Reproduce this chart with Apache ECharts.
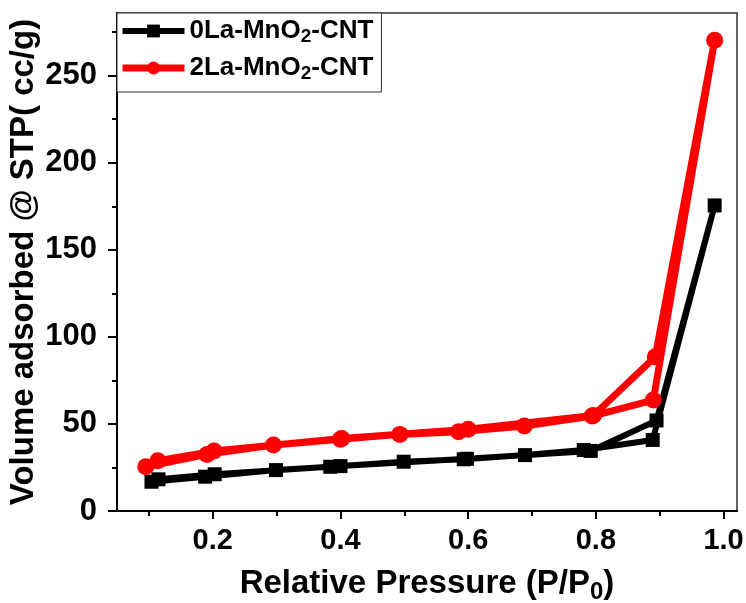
<!DOCTYPE html>
<html lang="en">
  <head>
    <meta charset="UTF-8" />
    <title>Isotherm</title>
    <script src="https://cdn.jsdelivr.net/npm/echarts@6.0.0/dist/echarts.min.js"></script>
    <style>
      body { margin: 0; background: #fff; }
    </style>
  </head>
  <body>
    <div id="main" style="width: 746px; height: 603px"></div>
    <script type="text/javascript">
      // adsorption branch followed by desorption branch (drawn as one path)
      const blackX = [0.104, 0.188, 0.299, 0.384, 0.499, 0.593, 0.689, 0.781, 0.889, 0.986,
                      0.895, 0.792, 0.598, 0.400, 0.203, 0.115];
      const blackY = [16.8, 19.7, 23.5, 25.4, 28.3, 29.7, 32.1, 35.0, 40.8, 175.5,
                      52.0, 34.5, 30.0, 25.8, 21.1, 18.2];
      const redX = [0.095, 0.191, 0.295, 0.400, 0.493, 0.585, 0.688, 0.794, 0.890, 0.986,
                    0.893, 0.796, 0.600, 0.402, 0.202, 0.114];
      const redY = [25.4, 32.5, 37.9, 41.2, 44.0, 45.5, 48.8, 54.5, 63.7, 270.4,
                    88.6, 54.8, 46.9, 41.7, 34.4, 28.9];
      const xMajor = [0.2, 0.4, 0.6, 0.8, 1.0];
      const xMinor = [0.1, 0.3, 0.5, 0.7, 0.9];
      const yMajor = [0, 50, 100, 150, 200, 250];
      const yMinor = [25, 75, 125, 175, 225, 275];

      const font = "'Liberation Sans', Arial, sans-serif";
      const pair = (xs, ys) => xs.map((x, i) => [x, ys[i]]);

      const subRich = (size, base) => ({
        b: { fontFamily: font, fontWeight: "bold", fontSize: size, lineHeight: base, color: "#000" },
        s: { fontFamily: font, fontWeight: "bold", fontSize: Math.round(size * 0.72), lineHeight: Math.round(size * 0.72), verticalAlign: "bottom", color: "#000" },
      });

      let myChart = echarts.init(document.getElementById("main"));
      myChart.setOption({
        animation: false,
        grid: {
          left: 117, right: 9, top: 13, bottom: 92,
          outerBoundsMode: "none",
          show: true, borderColor: "#333", borderWidth: 1.5,
        },
        legend: {
          orient: "vertical",
          left: 117,
          top: 13,
          padding: [5, 8, 9, 2],
          itemWidth: 62,
          itemHeight: 16,
          itemGap: 9,
          borderColor: "#333",
          borderWidth: 1,
          backgroundColor: "#fff",
          data: [
            { name: "0La-MnO2-CNT", lineStyle: { width: 6 } },
            { name: "2La-MnO2-CNT", lineStyle: { width: 7 } },
          ],
          formatter: (name) => name.replace(/^(.*)O2(.*)$/, "{b|$1O}{s|2}{b|$2}"),
          textStyle: { rich: subRich(26, 30) },
        },
        xAxis: [
          {
            type: "value",
            min: 0.05,
            max: 1.021,
            name: "{b|Relative Pressure (P/P}{s|0}{b|)}",
            nameLocation: "middle",
            nameGap: 53,
            nameMoveOverlap: false,
            nameTextStyle: { rich: subRich(33, 40) },
            axisLine: { lineStyle: { color: "#000", width: 2 } },
            axisTick: { customValues: xMajor, length: 8, lineStyle: { color: "#000", width: 2 } },
            axisLabel: {
              customValues: xMajor,
              margin: 15,
              fontFamily: font,
              fontWeight: "bold",
              fontSize: 29,
              color: "#000",
              formatter: (v) => v.toFixed(1),
            },
            splitLine: { show: false },
          },
          {
            type: "value",
            min: 0.05,
            max: 1.021,
            position: "bottom",
            axisLine: { show: false },
            axisTick: { customValues: xMinor, length: 5, lineStyle: { color: "#000", width: 2 } },
            axisLabel: { show: false },
            splitLine: { show: false },
          },
        ],
        yAxis: [
          {
            type: "value",
            min: 0,
            max: 286,
            name: "Volume adsorbed @ STP( cc/g)",
            nameLocation: "middle",
            nameGap: 77,
            nameMoveOverlap: false,
            nameTextStyle: { fontFamily: font, fontWeight: "bold", fontSize: 33, color: "#000" },
            axisLine: { show: true, lineStyle: { color: "#000", width: 2 } },
            axisTick: { show: true, customValues: yMajor, length: 9, lineStyle: { color: "#000", width: 2 } },
            axisLabel: {
              customValues: yMajor,
              margin: 20,
              fontFamily: font,
              fontWeight: "bold",
              fontSize: 31,
              color: "#000",
            },
            splitLine: { show: false },
          },
          {
            type: "value",
            min: 0,
            max: 286,
            position: "left",
            axisLine: { show: false },
            axisTick: { show: true, customValues: yMinor, length: 5, lineStyle: { color: "#000", width: 2 } },
            axisLabel: { show: false },
            splitLine: { show: false },
          },
        ],
        series: [
          {
            name: "0La-MnO2-CNT",
            type: "line",
            data: pair(blackX, blackY),
            color: "#000",
            symbol: "rect",
            symbolSize: 14,
            lineStyle: { width: 6, color: "#000" },
            itemStyle: { color: "#000" },
          },
          {
            name: "2La-MnO2-CNT",
            type: "line",
            data: pair(redX, redY),
            color: "#ff0000",
            symbol: "circle",
            symbolSize: 17,
            lineStyle: { width: 7, color: "#ff0000" },
            itemStyle: { color: "#ff0000" },
          },
        ],
      });
    </script>
  </body>
</html>
